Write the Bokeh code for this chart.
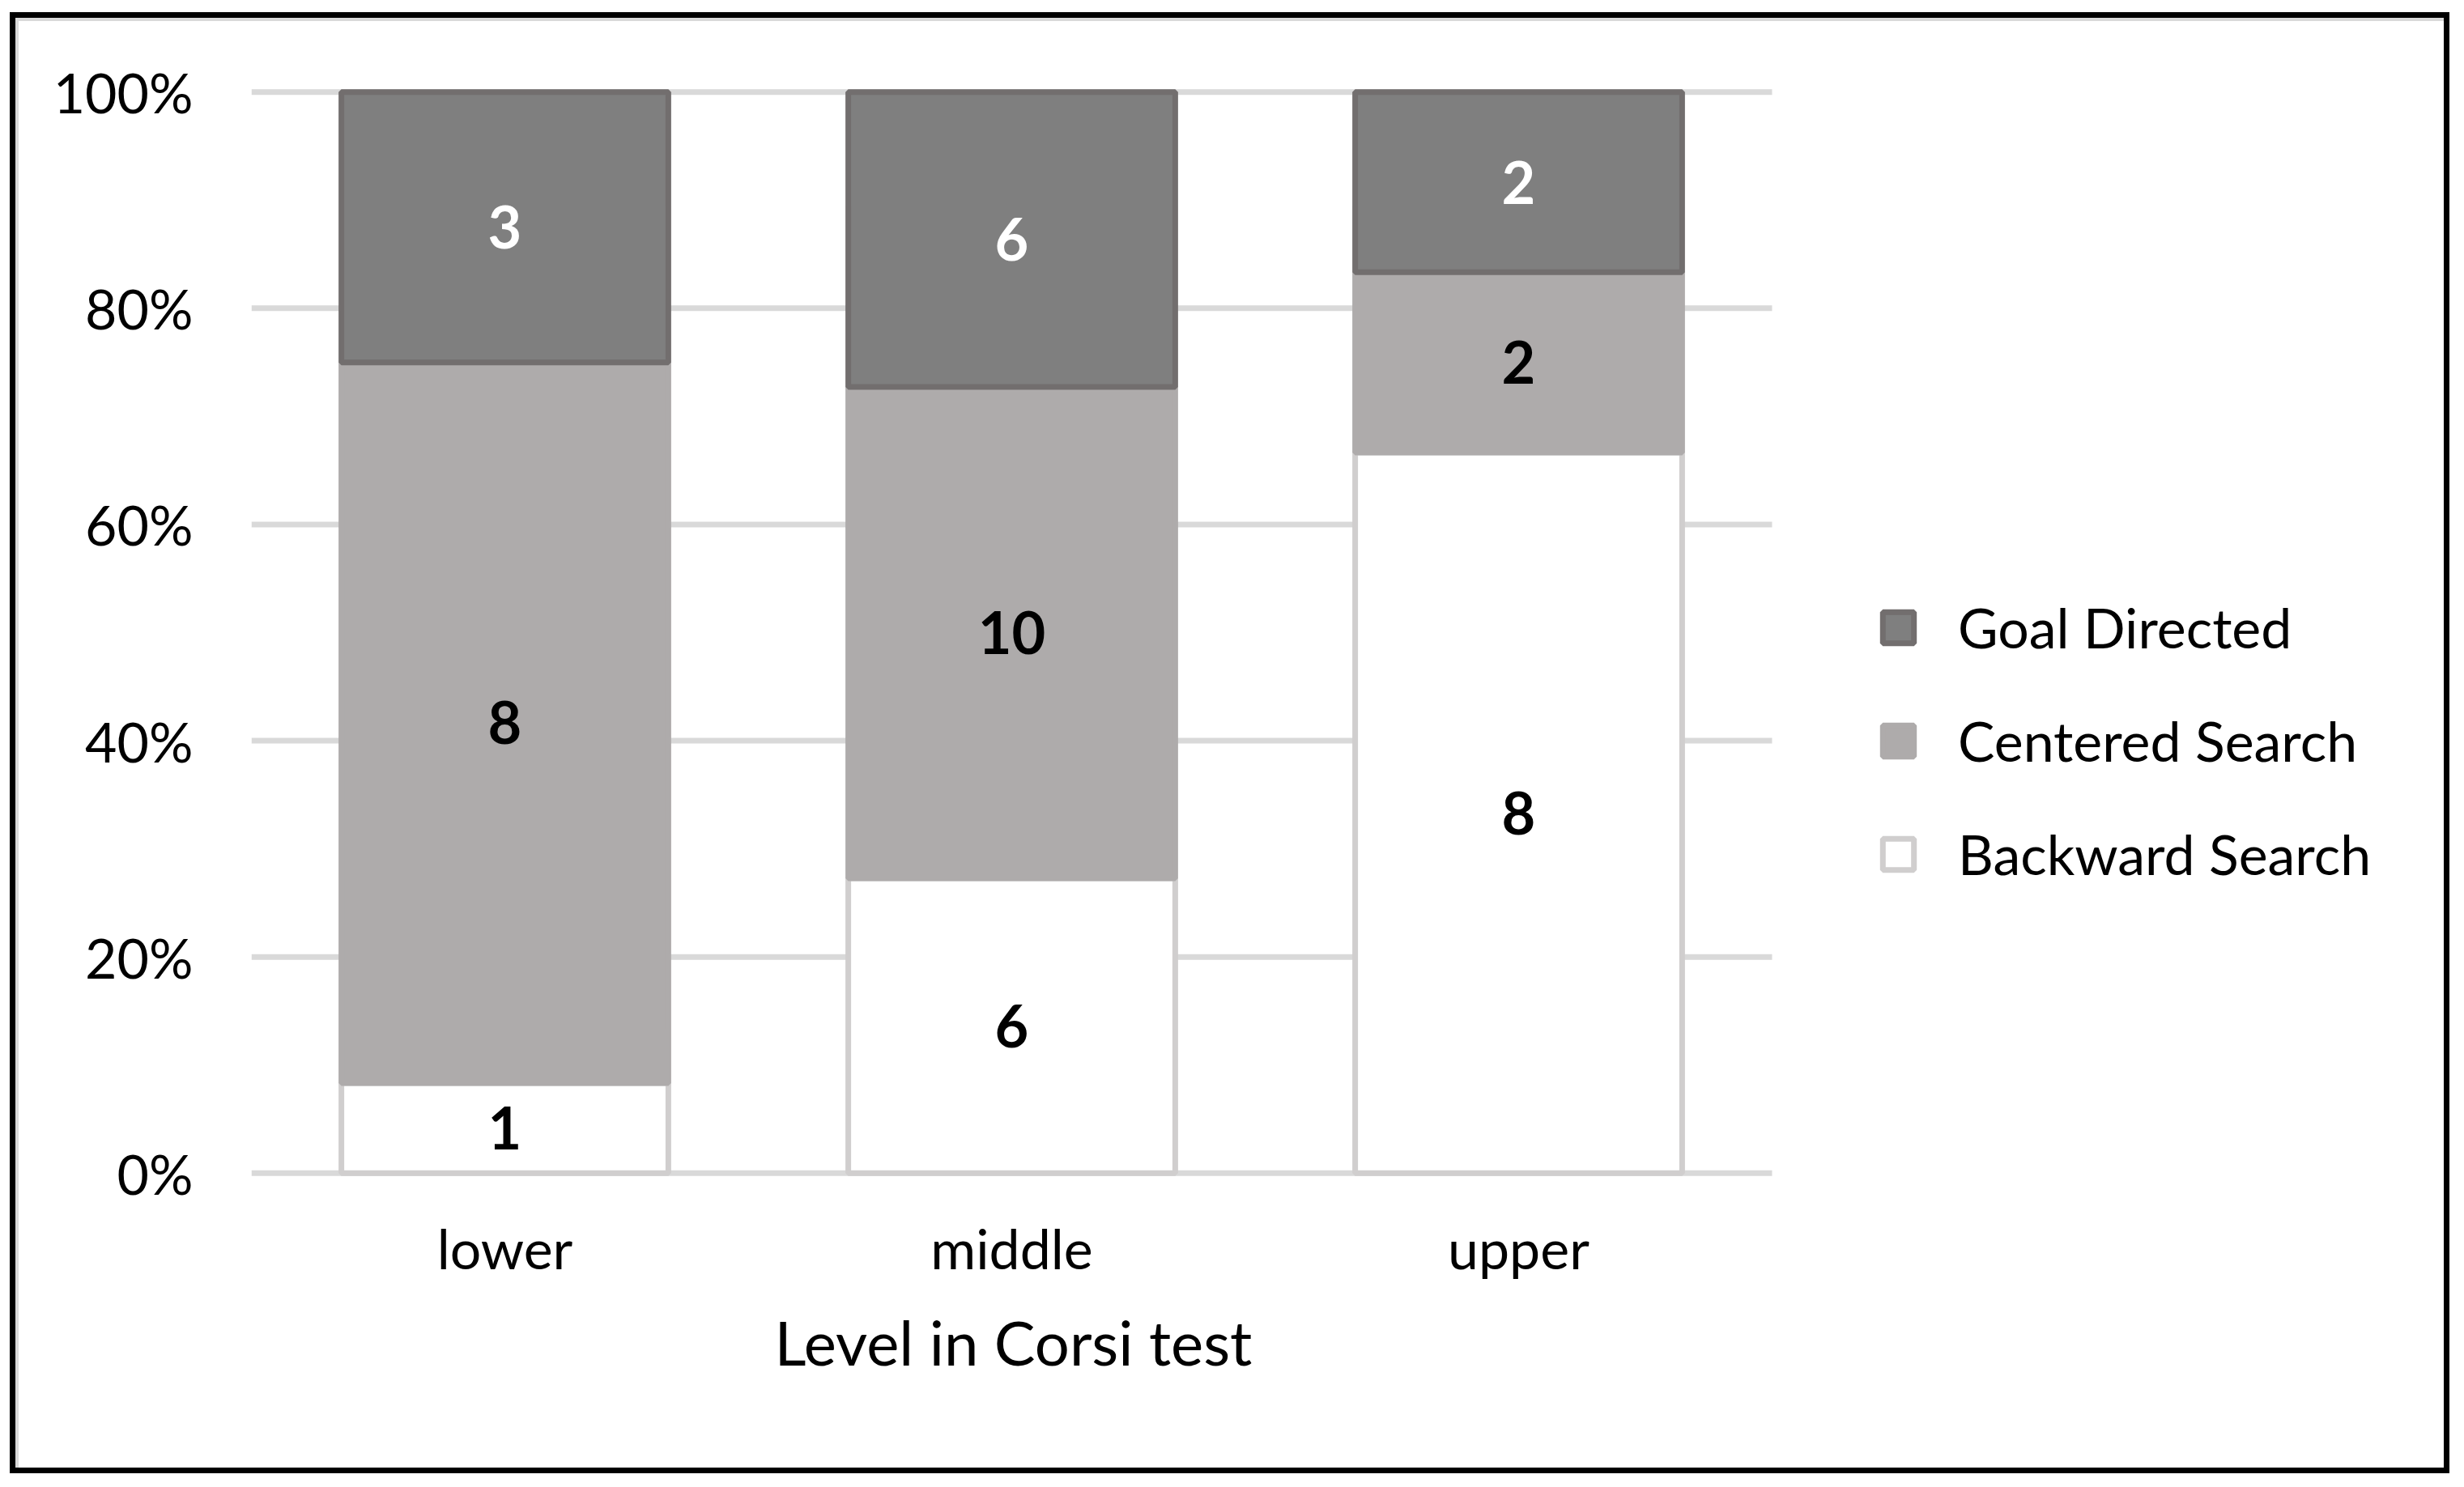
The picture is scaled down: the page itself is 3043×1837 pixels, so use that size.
from bokeh.plotting import figure
from bokeh.models import (ColumnDataSource, Range1d, Legend, LegendItem, Title,
                          NumeralTickFormatter, FixedTicker)
from bokeh.core.properties import value
from bokeh.embed import file_html
from bokeh.resources import INLINE

# ---- data ----
levels = ["lower", "middle", "upper"]
series = ["Backward Search", "Centered Search", "Goal Directed"]
backward_search = [1, 6, 8]
centered_search = [8, 10, 2]
goal_directed = [3, 6, 2]
y_ticks = [0, 0.2, 0.4, 0.6, 0.8, 1.0]
x_title = "Level in Corsi test"

fill_colors = ["#FFFFFF", "#AEABAB", "#7F7F7F"]
line_colors = ["#D0CECE", "#AEABAB", "#726E6E"]
label_colors = ["black", "black", "white"]

counts = [backward_search, centered_search, goal_directed]
xpos = list(range(len(levels)))
totals = [sum(c[i] for c in counts) for i in xpos]
data = {"x": xpos}
for name, c in zip(series, counts):
    data[name] = [v / t for v, t in zip(c, totals)]
source = ColumnDataSource(data)

FONT = "Lato"
e = 0.0047
W, H = 3025, 1820
MBL, MBR, MBT, MBB = 310, 15, 107, 365
cat_px = 626.0                       # pixels per category
frame_w = W - MBL - MBR
x_start = -0.5
x_end = x_start + frame_w / cat_px

p = figure(x_range=Range1d(x_start, x_end), y_range=Range1d(-e, 1 + e),
           width=W, height=H, output_backend="svg", toolbar_location=None,
           min_border_left=MBL, min_border_right=MBR, min_border_top=MBT, min_border_bottom=MBB)
p.styles = {"box-shadow": ("inset 12px 15px 0 0 white, "
                           "inset 12px 15px 0 7px black, "
                           "inset 0 0 0 7px black, "
                           "inset 12px 15px 0 11px #D9D9D9")}
p.border_fill_color = None
p.background_fill_color = None
p.outline_line_color = None

# horizontal gridlines spanning the category area only
gx0 = [xpos[0] - 0.5] * len(y_ticks)
gx1 = [xpos[-1] + 0.5] * len(y_ticks)
p.segment(x0=gx0, x1=gx1, y0=y_ticks, y1=y_ticks, line_color="#D9D9D9", line_width=7)

renderers = p.vbar_stack(series, x="x", width=0.645, source=source,
                         fill_color=fill_colors, line_color=line_colors, line_width=7)

# value labels in each segment
bottoms = [0.0] * len(levels)
for name, c, col in zip(series, counts, label_colors):
    fr = data[name]
    mids = [b + f / 2 for b, f in zip(bottoms, fr)]
    bottoms = [b + f for b, f in zip(bottoms, fr)]
    lab_src = ColumnDataSource(dict(x=xpos, y=mids, t=[str(v) for v in c]))
    p.text(x="x", y="y", text="t", source=lab_src, text_align="center",
           text_baseline="middle", text_color=col, text_font=value(FONT),
           text_font_style="bold", text_font_size="72px")

p.xgrid.visible = False
p.ygrid.visible = False

# axes
p.xaxis.ticker = FixedTicker(ticks=xpos)
p.xaxis.major_label_overrides = {i: lab for i, lab in zip(xpos, levels)}
p.yaxis.ticker = FixedTicker(ticks=y_ticks)
p.yaxis.formatter = NumeralTickFormatter(format="0%")
for ax in (p.xaxis[0], p.yaxis[0]):
    ax.axis_line_color = None
    ax.major_tick_line_color = None
    ax.minor_tick_line_color = None
    ax.major_tick_out = 0
    ax.major_tick_in = 0
    ax.major_label_text_font = FONT
    ax.major_label_text_font_size = "68px"
    ax.major_label_text_color = "black"
p.yaxis.major_label_standoff = 72
p.xaxis.major_label_standoff = 45

# x-axis title, centred under the bars
title = Title(text=x_title, align="left", offset=646, vertical_align="top", standoff=55,
              text_font=FONT, text_font_size="76px", text_font_style="normal",
              text_color="black")
p.add_layout(title, "below")

# legend (inside the frame, to the right of the bars)
items = [LegendItem(label=name, renderers=[r]) for name, r in zip(series, renderers)][::-1]
legend = Legend(items=items, location=(2010, 360), orientation="vertical",
                glyph_width=48, glyph_height=48, label_height=48, spacing=59,
                label_standoff=50, padding=0, margin=0, border_line_color=None,
                background_fill_alpha=0, label_text_font=FONT,
                label_text_font_size="68px", label_text_color="black")
p.add_layout(legend, "center")

open("out.html", "w").write(file_html(p, INLINE))
